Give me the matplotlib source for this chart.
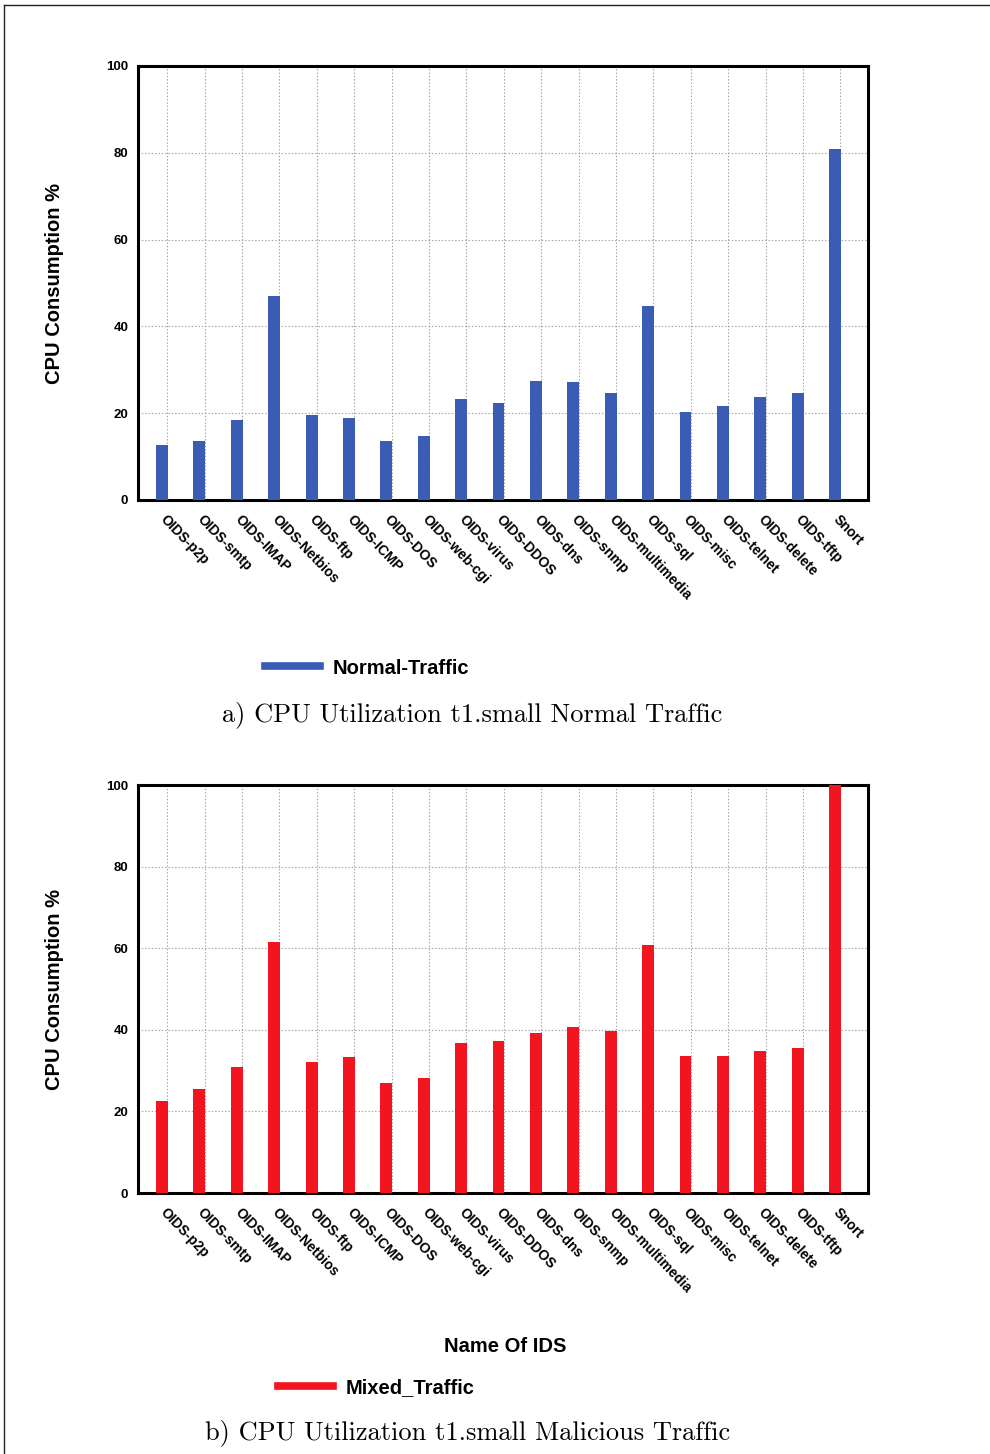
import matplotlib
matplotlib.use("Agg")
import matplotlib.pyplot as plt
from matplotlib.lines import Line2D
import numpy as np

# IDS names on the x axis
ids_names = ["OIDS-p2p", "OIDS-smtp", "OIDS-IMAP", "OIDS-Netbios", "OIDS-ftp",
             "OIDS-ICMP", "OIDS-DOS", "OIDS-web-cgi", "OIDS-virus", "OIDS-DDOS",
             "OIDS-dns", "OIDS-snmp", "OIDS-multimedia", "OIDS-sql", "OIDS-misc",
             "OIDS-telnet", "OIDS-delete", "OIDS-tftp", "Snort"]

# CPU consumption (%) per IDS
normal_traffic = [12.7, 13.7, 18.5, 47.0, 19.5, 18.8, 13.7, 14.7, 23.2, 22.4,
                  27.4, 27.1, 24.6, 44.8, 20.3, 21.7, 23.8, 24.6, 80.8]
mixed_traffic = [22.6, 25.5, 31.0, 61.4, 32.2, 33.4, 26.9, 28.1, 36.7, 37.2,
                 39.1, 40.8, 39.8, 60.8, 33.6, 33.5, 34.7, 35.6, 100.0]

y_ticks = [0, 20, 40, 60, 80, 100]

W, H = 990, 1454
fig = plt.figure(figsize=(W / 100, H / 100), dpi=100)

sans = ["Liberation Sans", "DejaVu Sans"]
BLUE = "#3a5cb4"
RED = "#f2141e"


def draw_panel(ax, values, color, show_xlabel):
    x = np.arange(len(ids_names))
    ax.bar(x, values, width=0.32, color=color, zorder=3)
    ax.set_xlim(-0.64, 18.88)
    ax.set_ylim(0, 100)
    ax.set_yticks(y_ticks)
    ax.set_yticklabels([str(v) for v in y_ticks], fontsize=9.5,
                       fontweight="bold", family=sans)
    ax.set_xticks(x + 0.14)
    ax.set_xticklabels(ids_names, rotation=-46, ha="left", va="top",
                       rotation_mode="anchor", fontsize=10,
                       fontweight="bold", family=sans)
    ax.tick_params(axis="both", length=0, pad=7)
    ax.tick_params(axis="x", pad=9)
    ax.grid(True, color="#a0a0a0", linestyle=(0, (1.2, 1.8)), linewidth=0.8,
            zorder=0)
    for s in ax.spines.values():
        s.set_linewidth(2.2)
        s.set_color("black")
    ax.set_ylabel("CPU Consumption %", fontsize=14.5, fontweight="bold",
                  family=sans)
    ax.yaxis.set_label_coords((55 - 138) / 730, 0.5)
    ax.yaxis.label.set_va("center")
    if show_xlabel:
        ax.set_xlabel("Name Of IDS", fontsize=14.5, fontweight="bold",
                      family=sans)
        ax.xaxis.set_label_coords((505 - 138) / 730, (1193 - 1347) / 408)
        ax.xaxis.label.set_va("center")


ax1 = fig.add_axes([138 / W, 1 - 500 / H, 730 / W, 434 / H])
draw_panel(ax1, normal_traffic, BLUE, False)

ax2 = fig.add_axes([138 / W, 1 - 1193 / H, 730 / W, 408 / H])
draw_panel(ax2, mixed_traffic, RED, True)

# legends below each panel
for color, label, lx, ly in [(BLUE, "Normal-Traffic", 265, 668),
                             (RED, "Mixed_Traffic", 278, 1388)]:
    fig.legend(handles=[Line2D([], [], color=color, lw=5.5)], labels=[label],
               loc="center left", bbox_to_anchor=(lx / W, 1 - ly / H),
               frameon=False, handlelength=2.75, handletextpad=0.6,
               borderpad=0, borderaxespad=0,
               prop={"family": sans, "weight": "bold", "size": 14.5})

# sub-figure captions
fig.text(472 / W, 1 - 715 / H, "a) CPU Utilization t1.small Normal Traffic",
         ha="center", va="center", fontsize=19, family="cmr10")
fig.text(468 / W, 1 - 1433 / H, "b) CPU Utilization t1.small Malicious Traffic",
         ha="center", va="center", fontsize=19, family="cmr10")

# page frame
fig.add_artist(Line2D([4 / W, 4 / W], [0, 1 - 5 / H], color="#222222",
                      lw=1.0, transform=fig.transFigure))
fig.add_artist(Line2D([4 / W, 1], [1 - 5 / H, 1 - 5 / H], color="#222222",
                      lw=1.0, transform=fig.transFigure))

fig.savefig("out.png", dpi=100, facecolor="white")
